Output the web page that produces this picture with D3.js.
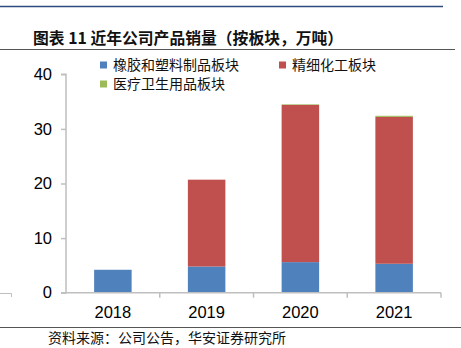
<!DOCTYPE html>
<html><head><meta charset="utf-8">
<script src="https://cdn.jsdelivr.net/npm/d3@7"></script>
<style>body{margin:0;background:#fff}</style>
</head><body>
<script>
const years = ["2018","2019","2020","2021"];
const rubberPlastic = [4.2, 4.8, 5.6, 5.3];
const fineChemical = [0, 15.9, 28.8, 26.9];
const medical = [0, 0, 0.1, 0.2];
const seriesNames = ["橡胶和塑料制品板块","精细化工板块","医疗卫生用品板块"];
const yTicks = [0,10,20,30,40];
const colors = ["#4F81BD","#C0504D","#9BBB59"];

const W=461,H=348;
const svg=d3.select("body").append("svg").attr("width",W).attr("height",H);
const cjk='"Noto Sans CJK SC","Noto Sans",sans-serif';
const lat='"Liberation Sans",Arial,sans-serif';

// header lines
svg.append("line").attr("x1",0).attr("x2",443).attr("y1",6.5).attr("y2",6.5).attr("stroke","#2F4A7F").attr("stroke-width",1.5);
svg.append("text").attr("x",33).attr("y",44).attr("font-family",cjk).attr("font-weight","bold").attr("font-size",15.8).attr("fill","#111")
  .text("图表 11 近年公司产品销量（按板块，万吨）");
svg.append("line").attr("x1",0).attr("x2",455).attr("y1",49.5).attr("y2",49.5).attr("stroke","#555").attr("stroke-width",1);
svg.append("line").attr("x1",0).attr("x2",461).attr("y1",327.5).attr("y2",327.5).attr("stroke","#555").attr("stroke-width",1);
svg.append("text").attr("x",48).attr("y",343).attr("font-family",cjk).attr("font-size",14).attr("fill","#111")
  .text("资料来源：公司公告，华安证券研究所");
// left fragment
svg.append("path").attr("d","M0,293.5H11.5V297").attr("fill","none").attr("stroke","#bfbfbf");

const x=d3.scaleBand().domain(years).range([66,441]).paddingInner(0.6).paddingOuter(0.3);
const y=d3.scaleLinear().domain([0,40]).range([292.7,74.3]);

const data=years.map((yr,i)=>({year:yr,a:rubberPlastic[i],b:fineChemical[i],c:medical[i]}));
const stack=d3.stack().keys(["a","b","c"])(data);
svg.append("g").selectAll("g").data(stack).join("g").attr("fill",(d,i)=>colors[i])
  .selectAll("rect").data(d=>d).join("rect")
  .attr("x",d=>x(d.data.year)).attr("width",x.bandwidth())
  .attr("y",d=>y(d[1])).attr("height",d=>Math.max(0,y(d[0])-y(d[1])));

// y axis
const ya=svg.append("g").attr("transform","translate(66,0)")
  .call(d3.axisLeft(y).tickValues(yTicks).tickSize(5).tickPadding(9));
ya.select(".domain").attr("stroke","#bfbfbf").attr("stroke-width",1.5);
ya.selectAll(".tick line").attr("stroke","#bfbfbf").attr("stroke-width",1.5);
ya.selectAll("text").attr("font-family",lat).attr("font-size",16.5).attr("fill","#000");
ya.select(".domain").attr("d","M-5,74.3H0V292.7H-5");

// x axis
const xa=svg.append("g").attr("transform","translate(0,292.7)");
xa.append("line").attr("x1",66).attr("x2",441).attr("stroke","#bfbfbf").attr("stroke-width",1.5);
const bounds=years.map((d,i)=>66+(i+1)*((441-66)/years.length));
xa.selectAll("line.t").data(bounds).join("line").attr("class","t")
  .attr("x1",d=>d).attr("x2",d=>d).attr("y1",0).attr("y2",5).attr("stroke","#bfbfbf").attr("stroke-width",1.5);
xa.selectAll("text").data(years).join("text")
  .attr("x",d=>x(d)+x.bandwidth()/2).attr("y",25).attr("text-anchor","middle")
  .attr("font-family",lat).attr("font-size",16.5).attr("fill","#000").text(d=>d);

// legend
const leg=[{n:seriesNames[0],c:colors[0],x:100,y:65},{n:seriesNames[1],c:colors[1],x:279,y:65},{n:seriesNames[2],c:colors[2],x:100,y:84}];
const lg=svg.append("g").selectAll("g").data(leg).join("g").attr("transform",d=>`translate(${d.x},${d.y})`);
lg.append("rect").attr("x",0).attr("y",-3.5).attr("width",7).attr("height",7).attr("fill",d=>d.c);
lg.append("text").attr("x",13).attr("y",5).attr("font-family",cjk).attr("font-size",14).attr("fill","#111").text(d=>d.n);
</script>
</body></html>
